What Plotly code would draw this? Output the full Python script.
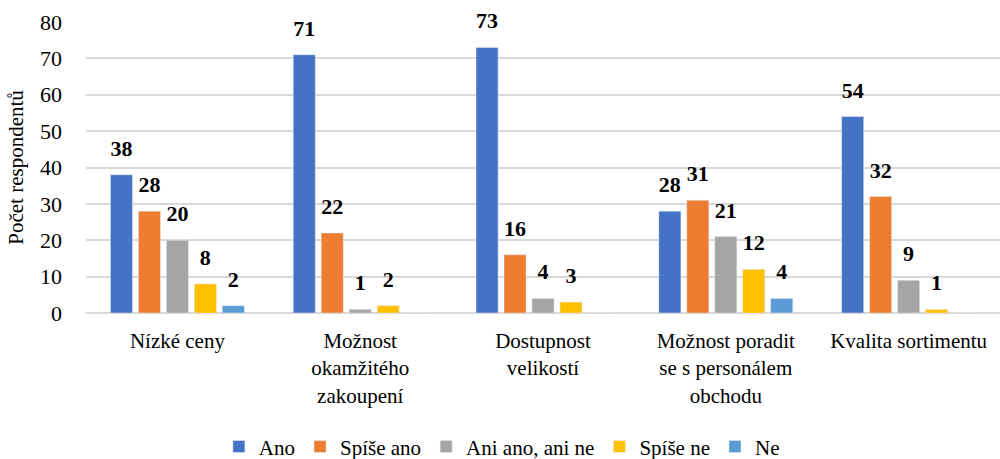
import plotly.graph_objects as go

categories = [
    "Nízké ceny",
    "Možnost<br>okamžitého<br>zakoupení",
    "Dostupnost<br>velikostí",
    "Možnost poradit<br>se s personálem<br>obchodu",
    "Kvalita sortimentu",
]
series_names = ["Ano", "Spíše ano", "Ani ano, ani ne", "Spíše ne", "Ne"]
ano = [38, 71, 73, 28, 54]
spise_ano = [28, 22, 16, 31, 32]
ani_ano_ani_ne = [20, 1, 4, 21, 9]
spise_ne = [8, 2, 3, 12, 1]
ne = [2, 0, 0, 4, 0]

colors = ["#4472C4", "#ED7D31", "#A5A5A5", "#FFC000", "#5B9BD5"]
serif = "Liberation Serif"

fig = go.Figure()
for name, vals, col in zip(series_names, [ano, spise_ano, ani_ano_ani_ne, spise_ne, ne], colors):
    fig.add_trace(go.Bar(
        name=name,
        x=categories,
        y=vals,
        marker_color=col,
        hoverinfo="x+y+name",
    ))

# data labels: grouped scatter on top of the bars, empty label for zero
for name, vals in zip(series_names, [ano, spise_ano, ani_ano_ani_ne, spise_ne, ne]):
    fig.add_trace(go.Scatter(
        x=categories,
        y=vals,
        mode="markers+text",
        marker=dict(size=20, color="rgba(0,0,0,0)"),
        text=[str(v) if v else "" for v in vals],
        textposition="top center",
        textfont=dict(family=serif, size=22, color="black", weight="bold"),
        showlegend=False,
        hoverinfo="skip",
        cliponaxis=False,
    ))

fig.update_layout(
    width=1000,
    height=459,
    barmode="group",
    bargap=0.235,
    bargroupgap=0.21,
    scattermode="group",
    scattergap=0.235,
    plot_bgcolor="white",
    paper_bgcolor="white",
    margin=dict(l=86, r=0, t=22, b=146, autoexpand=False),
    font=dict(family=serif, color="black"),
    showlegend=True,
    legend=dict(
        orientation="h",
        x=0.455,
        xanchor="center",
        y=-0.46,
        yanchor="middle",
        font=dict(family=serif, size=21),
        traceorder="normal",
        itemwidth=30,
    ),
)
fig.update_yaxes(
    range=[0, 80],
    dtick=10,
    showgrid=True,
    gridcolor="#D9D9D9",
    gridwidth=1.5,
    zeroline=True,
    zerolinecolor="#D9D9D9",
    zerolinewidth=1.5,
    tickfont=dict(family=serif, size=22),
    ticklabelstandoff=23,
    automargin=False,
    title=dict(text="Počet respondentů", font=dict(family=serif, size=21), standoff=10),
)
fig.update_xaxes(
    tickfont=dict(family=serif, size=21),
    tickangle=0,
    ticklabelstandoff=13,
    automargin=False,
    showline=False,
    ticks="",
)

fig.write_html(
    "out.html",
    config={"displayModeBar": False},
    post_script="document.body.style.margin='0px';",
)
